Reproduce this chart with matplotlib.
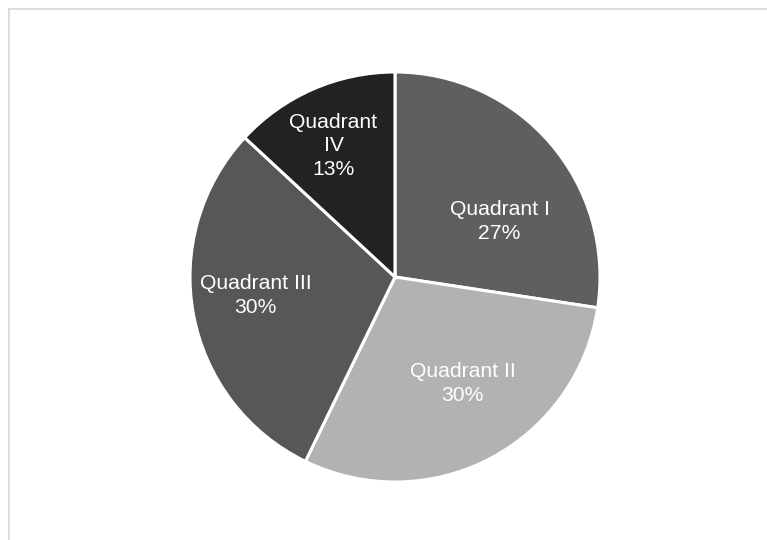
import matplotlib.pyplot as plt
from matplotlib.lines import Line2D

labels = ['Quadrant I', 'Quadrant II', 'Quadrant III', 'Quadrant IV']
values = [27.4, 29.8, 29.7, 13.1]
colors = ['#5f5f5f', '#b2b2b2', '#575757', '#222222']
# label text split like the original (narrow wedge wraps)
label_text = ['Quadrant I', 'Quadrant II', 'Quadrant III', 'Quadrant\nIV']
label_pos = [(0.51, 0.27), (0.33, -0.52), (-0.68, -0.09), (-0.30, 0.64)]

plt.rcParams['font.family'] = ['Liberation Sans', 'DejaVu Sans']

W, H = 767, 540
fig = plt.figure(figsize=(W / 100, H / 100), dpi=100)

cx, cy, r = 395, 277, 205
ax = fig.add_axes([(cx - r) / W, (H - cy - r) / H, 2 * r / W, 2 * r / H])

wedges, _ = ax.pie(values, colors=colors, startangle=90, counterclock=False,
                   radius=1, wedgeprops=dict(edgecolor='white', linewidth=2.2))

total = sum(values)
for txt, v, (x, y) in zip(label_text, values, label_pos):
    ax.text(x, y, '%s\n%d%%' % (txt, round(v / total * 100)), ha='center', va='center',
            color='white', fontsize=15.2, linespacing=1.3)

ax.set_xlim(-1.0, 1.0)
ax.set_ylim(-1.0, 1.0)
ax.axis('off')

# chart area border (top and left edges visible)
bx = 8.5 / W
by = 1 - 8.5 / H
fig.add_artist(Line2D([bx, 1.0], [by, by], color='#d9d9d9', lw=1.3, transform=fig.transFigure))
fig.add_artist(Line2D([bx, bx], [0.0, by], color='#d9d9d9', lw=1.3, transform=fig.transFigure))

fig.savefig('out.png', dpi=100, facecolor='white')
